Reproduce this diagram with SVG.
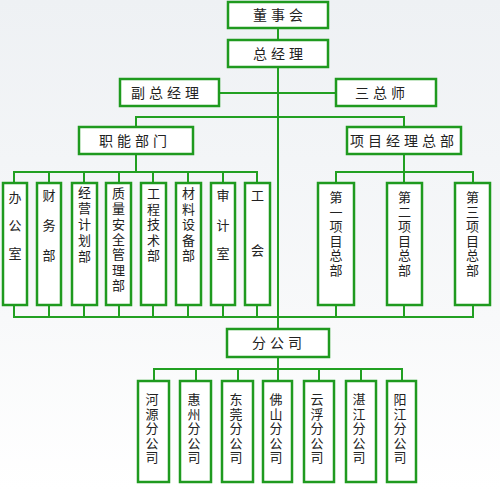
<svg xmlns="http://www.w3.org/2000/svg" width="500" height="490" viewBox="0 0 500 490">
<defs>
<linearGradient id="bg" x1="0" y1="0" x2="0" y2="1">
<stop offset="0" stop-color="#eef1f4"/>
<stop offset="0.65" stop-color="#f8f9fa"/>
<stop offset="1" stop-color="#ffffff"/>
</linearGradient>
</defs>
<style>
.box{fill:#ffffff;stroke:#1f9a1f;stroke-width:2.5}
.ln{fill:none;stroke:#22a022;stroke-width:2}
text{font-family:"Noto Sans CJK SC","Noto Sans",sans-serif;font-size:14px;fill:#222222}
.h{text-anchor:middle;letter-spacing:4px}
.v{text-anchor:middle;font-size:13px}
</style>
<rect width="500" height="490" fill="url(#bg)"/>
<g id="connectors">
<path class="ln" d="M278,28V40 M278,67V329 M219,93H336 M136,127V117H404V127"/>
<path class="ln" d="M136,154V172 M14,183V172H257V183 M49,172V183 M84,172V183 M119,172V183 M153,172V183 M188,172V183 M223,172V183"/>
<path class="ln" d="M404,154V172 M336,183V172H473V183 M404,172V183"/>
<path class="ln" d="M14,305V317H473V305 M49,305V317 M84,305V317 M119,305V317 M153,305V317 M188,305V317 M223,305V317 M257,305V317 M336,305V317 M404,305V317"/>
<path class="ln" d="M278,357V369 M154,381V369H402V381 M196,369V381 M238,369V381 M278,369V381 M319,369V381 M361,369V381"/>
</g>
<g id="n-dongshihui"><rect class="box" x="228" y="2" width="100" height="26"/><text class="h" x="280" y="20">董事会</text></g>
<g id="n-zongjingli"><rect class="box" x="228" y="40" width="100" height="27"/><text class="h" x="280" y="58.5">总经理</text></g>
<g id="n-fuzongjingli"><rect class="box" x="120" y="79" width="99" height="27"/><text class="h" x="167" y="97.5">副总经理</text></g>
<g id="n-sanzongshi"><rect class="box" x="336" y="79" width="100" height="27"/><text class="h" x="382" y="97.5">三总师</text></g>
<g id="n-zhineng"><rect class="box" x="79" y="127" width="114" height="27"/><text class="h" x="135" y="145.5">职能部门</text></g>
<g id="n-xiangmu"><rect class="box" x="347" y="127" width="114" height="27"/><text class="h" x="404" y="145.5">项目经理总部</text></g>
<g id="n-bangongshi"><rect class="box" x="3" y="183" width="24" height="122"/><text class="v"><tspan x="15" y="202">办</tspan><tspan x="15" y="230">公</tspan><tspan x="15" y="258">室</tspan></text></g>
<g id="n-caiwu"><rect class="box" x="37" y="183" width="24" height="122"/><text class="v"><tspan x="49" y="200">财</tspan><tspan x="49" y="230">务</tspan><tspan x="49" y="260">部</tspan></text></g>
<g id="n-jingying"><rect class="box" x="72" y="183" width="25" height="122"/><text class="v"><tspan x="84.5" y="197">经</tspan><tspan x="84.5" y="213">营</tspan><tspan x="84.5" y="229">计</tspan><tspan x="84.5" y="245">划</tspan><tspan x="84.5" y="261">部</tspan></text></g>
<g id="n-zhiliang"><rect class="box" x="106" y="183" width="25" height="122"/><text class="v"><tspan x="118.5" y="198">质</tspan><tspan x="118.5" y="213.3">量</tspan><tspan x="118.5" y="228.6">安</tspan><tspan x="118.5" y="244">全</tspan><tspan x="118.5" y="259.3">管</tspan><tspan x="118.5" y="274.6">理</tspan><tspan x="118.5" y="290">部</tspan></text></g>
<g id="n-gongcheng"><rect class="box" x="141" y="183" width="25" height="122"/><text class="v"><tspan x="153.5" y="198">工</tspan><tspan x="153.5" y="213.5">程</tspan><tspan x="153.5" y="229">技</tspan><tspan x="153.5" y="244.5">术</tspan><tspan x="153.5" y="260">部</tspan></text></g>
<g id="n-cailiao"><rect class="box" x="176" y="183" width="25" height="122"/><text class="v"><tspan x="188.5" y="198">材</tspan><tspan x="188.5" y="213.5">料</tspan><tspan x="188.5" y="229">设</tspan><tspan x="188.5" y="244.5">备</tspan><tspan x="188.5" y="260">部</tspan></text></g>
<g id="n-shenji"><rect class="box" x="211" y="183" width="24" height="122"/><text class="v"><tspan x="223" y="200">审</tspan><tspan x="223" y="230">计</tspan><tspan x="223" y="258">室</tspan></text></g>
<g id="n-gonghui"><rect class="box" x="245" y="183" width="25" height="122"/><text class="v"><tspan x="257.5" y="200">工</tspan><tspan x="257.5" y="255">会</tspan></text></g>
<g id="n-xm1"><rect class="box" x="318" y="183" width="36" height="122"/><text class="v"><tspan x="336" y="202">第</tspan><tspan x="336" y="216.6">一</tspan><tspan x="336" y="231.2">项</tspan><tspan x="336" y="245.8">目</tspan><tspan x="336" y="260.4">总</tspan><tspan x="336" y="275">部</tspan></text></g>
<g id="n-xm2"><rect class="box" x="387" y="183" width="35" height="122"/><text class="v"><tspan x="404.5" y="202">第</tspan><tspan x="404.5" y="216.6">二</tspan><tspan x="404.5" y="231.2">项</tspan><tspan x="404.5" y="245.8">目</tspan><tspan x="404.5" y="260.4">总</tspan><tspan x="404.5" y="275">部</tspan></text></g>
<g id="n-xm3"><rect class="box" x="455" y="183" width="35" height="122"/><text class="v"><tspan x="472.5" y="202">第</tspan><tspan x="472.5" y="216.6">三</tspan><tspan x="472.5" y="231.2">项</tspan><tspan x="472.5" y="245.8">目</tspan><tspan x="472.5" y="260.4">总</tspan><tspan x="472.5" y="275">部</tspan></text></g>
<g id="n-fengongsi"><rect class="box" x="227" y="329" width="102" height="28"/><text class="h" x="279" y="348">分公司</text></g>
<g id="n-heyuan"><rect class="box" x="138" y="381" width="31" height="101"/><text class="v"><tspan x="152" y="404">河</tspan><tspan x="152" y="418.5">源</tspan><tspan x="152" y="433">分</tspan><tspan x="152" y="447.5">公</tspan><tspan x="152" y="462">司</tspan></text></g>
<g id="n-huizhou"><rect class="box" x="180" y="381" width="31" height="101"/><text class="v"><tspan x="194" y="404">惠</tspan><tspan x="194" y="418.5">州</tspan><tspan x="194" y="433">分</tspan><tspan x="194" y="447.5">公</tspan><tspan x="194" y="462">司</tspan></text></g>
<g id="n-dongguan"><rect class="box" x="222" y="381" width="31" height="101"/><text class="v"><tspan x="236" y="404">东</tspan><tspan x="236" y="418.5">莞</tspan><tspan x="236" y="433">分</tspan><tspan x="236" y="447.5">公</tspan><tspan x="236" y="462">司</tspan></text></g>
<g id="n-foshan"><rect class="box" x="263" y="381" width="29" height="101"/><text class="v"><tspan x="276" y="404">佛</tspan><tspan x="276" y="418.5">山</tspan><tspan x="276" y="433">分</tspan><tspan x="276" y="447.5">公</tspan><tspan x="276" y="462">司</tspan></text></g>
<g id="n-yunfu"><rect class="box" x="304" y="381" width="30" height="101"/><text class="v"><tspan x="317" y="404">云</tspan><tspan x="317" y="418.5">浮</tspan><tspan x="317" y="433">分</tspan><tspan x="317" y="447.5">公</tspan><tspan x="317" y="462">司</tspan></text></g>
<g id="n-zhanjiang"><rect class="box" x="346" y="381" width="30" height="101"/><text class="v"><tspan x="359" y="404">湛</tspan><tspan x="359" y="418.5">江</tspan><tspan x="359" y="433">分</tspan><tspan x="359" y="447.5">公</tspan><tspan x="359" y="462">司</tspan></text></g>
<g id="n-yangjiang"><rect class="box" x="387" y="381" width="29" height="101"/><text class="v"><tspan x="400" y="404">阳</tspan><tspan x="400" y="418.5">江</tspan><tspan x="400" y="433">分</tspan><tspan x="400" y="447.5">公</tspan><tspan x="400" y="462">司</tspan></text></g>
</svg>
